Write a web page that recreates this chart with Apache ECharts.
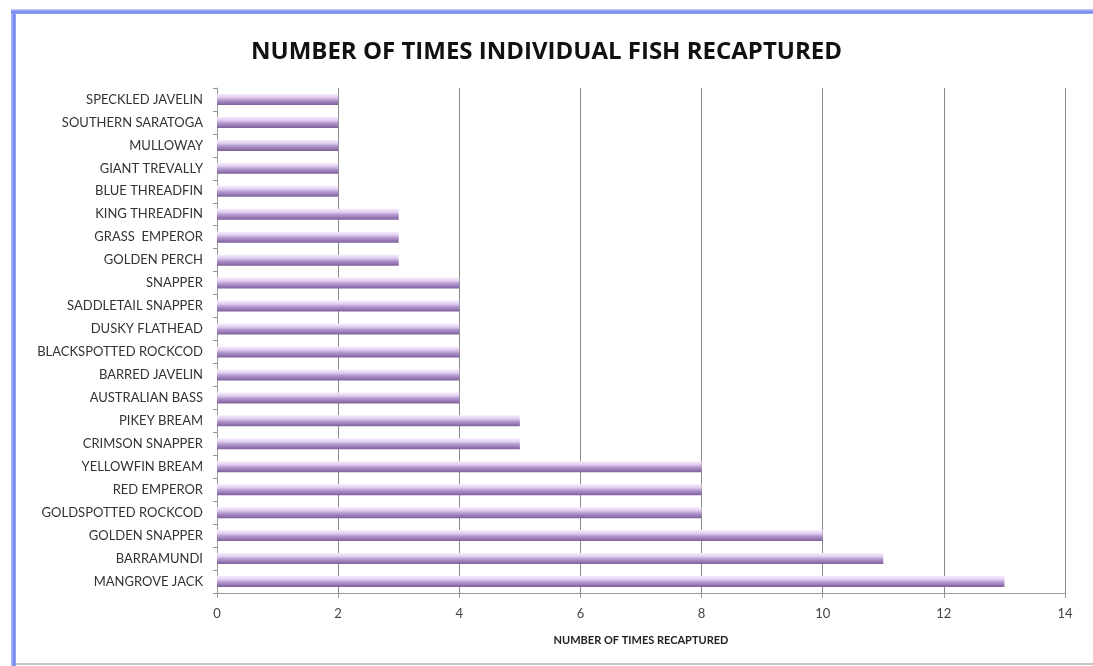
<!DOCTYPE html>
<html>
<head>
<meta charset="utf-8">
<script src="https://cdn.jsdelivr.net/npm/echarts@6/dist/echarts.min.js"></script>
<style>
  body { margin: 0; background: #fff; }
  #main { width: 1093px; height: 666px; }
</style>
</head>
<body>
<div id="main"></div>
<script>
// fish species, listed top to bottom as in the chart
var species = [
  'SPECKLED JAVELIN', 'SOUTHERN SARATOGA', 'MULLOWAY', 'GIANT TREVALLY',
  'BLUE THREADFIN', 'KING THREADFIN', 'GRASS  EMPEROR', 'GOLDEN PERCH',
  'SNAPPER', 'SADDLETAIL SNAPPER', 'DUSKY FLATHEAD', 'BLACKSPOTTED ROCKCOD',
  'BARRED JAVELIN', 'AUSTRALIAN BASS', 'PIKEY BREAM', 'CRIMSON SNAPPER',
  'YELLOWFIN BREAM', 'RED EMPEROR', 'GOLDSPOTTED ROCKCOD', 'GOLDEN SNAPPER',
  'BARRAMUNDI', 'MANGROVE JACK'
];
// number of times recaptured
var recaptures = [2, 2, 2, 2, 2, 3, 3, 3, 4, 4, 4, 4, 4, 4, 5, 5, 8, 8, 8, 10, 11, 13];

var chart = echarts.init(document.getElementById('main'));

var option = {
  textStyle: { fontFamily: 'Lato' },
  title: {
    text: 'NUMBER OF TIMES INDIVIDUAL FISH RECAPTURED',
    left: 'center',
    top: 35,
    textStyle: { fontFamily: 'Open Sans', fontSize: 24, fontWeight: 'bold', color: '#111' }
  },
  graphic: [
    // frame round the chart, blue on left/top like the original
    { type: 'rect', shape: { x: 11, y: 9, width: 5, height: 657 },
      style: { fill: new echarts.graphic.LinearGradient(0, 0, 1, 0, [
        { offset: 0, color: '#b5c0f8' }, { offset: 0.6, color: '#6f84ee' }, { offset: 1, color: '#9aa8f0' }]) } },
    { type: 'rect', shape: { x: 11, y: 9, width: 1082, height: 5 },
      style: { fill: new echarts.graphic.LinearGradient(0, 0, 0, 1, [
        { offset: 0, color: '#c9d1f9' }, { offset: 0.6, color: '#6f84ee' }, { offset: 1, color: '#9aa8f0' }]) } },
    { type: 'rect', shape: { x: 16, y: 663, width: 1077, height: 2 }, style: { fill: '#c8c8c8' } }
  ],
  grid: { left: 217, right: 28, top: 88, bottom: 73 },
  xAxis: {
    type: 'value',
    min: 0,
    max: 14,
    interval: 2,
    name: 'NUMBER OF TIMES RECAPTURED',
    nameLocation: 'middle',
    nameGap: 42,
    nameTextStyle: { fontSize: 11, fontWeight: 'bold', color: '#222' },
    axisLine: { show: true, lineStyle: { color: '#999' } },
    axisTick: { show: true, length: 5, lineStyle: { color: '#999' } },
    axisLabel: { fontSize: 13, color: '#444', margin: 14 },
    splitLine: { lineStyle: { color: '#8a8a8a', width: 1 } }
  },
  yAxis: {
    type: 'category',
    inverse: true,
    data: species,
    axisLine: { show: true, lineStyle: { color: '#999' } },
    axisTick: { show: true, length: 4, lineStyle: { color: '#999' } },
    axisLabel: { fontSize: 13, color: '#333', margin: 14 },
    splitLine: { show: false }
  },
  series: [{
    type: 'bar',
    data: recaptures,
    barWidth: 11,
    itemStyle: {
      color: new echarts.graphic.LinearGradient(0, 0, 0, 1, [
        { offset: 0, color: '#f6ecfc' },
        { offset: 0.3, color: '#e2cff0' },
        { offset: 0.55, color: '#b499d0' },
        { offset: 1, color: '#7d5f9b' }
      ])
    }
  }]
};

chart.setOption(option);
</script>
</body>
</html>
